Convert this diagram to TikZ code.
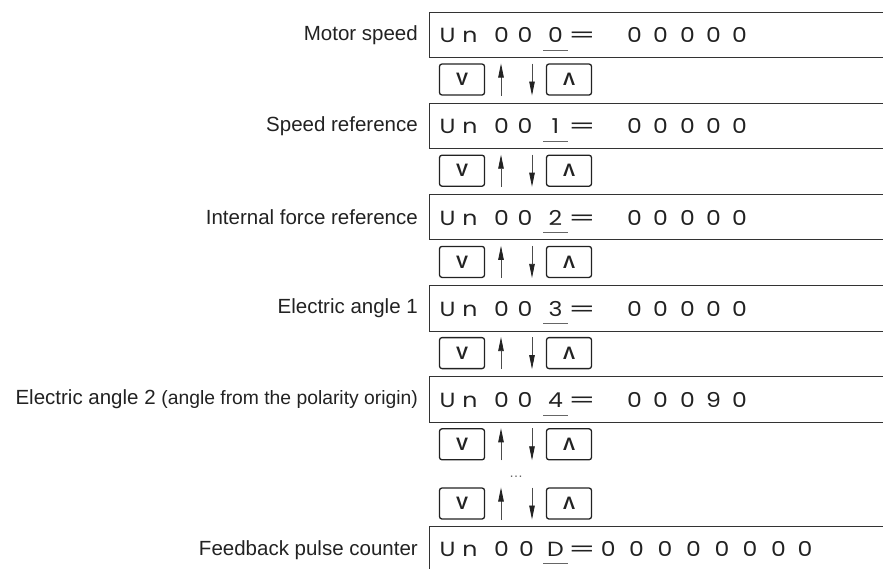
\documentclass[tikz,border=0pt]{standalone}
\usepackage{fontspec}
\setmainfont{Liberation Sans}
\newfontfamily\dispfont{Poppins}
\usetikzlibrary{arrows.meta}
\definecolor{ink}{HTML}{222222}
\definecolor{lin}{HTML}{333333}
\newcommand{\wch}[1]{\scalebox{1.15}[1]{#1}}
\newcommand{\weq}{\scalebox{1.9}[1]{=}}
\begin{document}
\begin{tikzpicture}[x=1pt,y=-1pt,
  lbl/.style={anchor=east,inner sep=0pt,text=ink,font=\fontsize{20.5}{24}\selectfont},
  dispbox/.style={minimum width=454pt,minimum height=45pt,inner sep=0pt,anchor=north west},
  boxline/.style={draw=lin,line width=0.9pt},
  dch/.style={anchor=base,inner sep=0pt,text=ink,font=\dispfont\fontsize{20.5}{24}\selectfont},
  uline/.style={draw=black!60,line width=0.9pt},
  btn/.style={draw=ink,line width=1.3pt,rounded corners=2.5pt,minimum width=45pt,minimum height=31pt,inner sep=0pt,text=ink,font=\bfseries\fontsize{18}{18}\selectfont},
  arr/.style={draw=black!70,line width=0.8pt,-{Triangle[length=14pt,width=5.5pt,color=ink]}}
]
\useasboundingbox (0,0) rectangle (883,568);

% display boxes (open to the right)
\foreach \i/\top in {0/12,1/103.2,2/194.4,3/285.6,4/376.8}{
  \node[dispbox] (disp\i) at (429,\top) {};
  \draw[boxline] (disp\i.north east) -- (disp\i.north west) -- (disp\i.south west) -- (disp\i.south east);
}
\node[dispbox,minimum height=60pt] (disp5) at (429,526.5) {};
\draw[boxline] (disp5.north east) -- (disp5.north west) -- (disp5.south west);

% labels
\node[lbl] (lab0) at (418,35) {Motor speed};
\node[lbl] (lab1) at (418,126) {Speed reference};
\node[lbl] (lab2) at (418,217) {Internal force reference};
\node[lbl] (lab3) at (418,308) {Electric angle 1};
\node[lbl] (lab4) at (418,399) {Electric angle 2 {\fontsize{19.3}{22}\selectfont(angle from the polarity origin)}};
\node[lbl] (lab5) at (418,550) {Feedback pulse counter};

% display characters, rows 0-4
\foreach \i/\d/\ra/\rb/\rc/\rd/\re in {0/0/0/0/0/0/0,1/1/0/0/0/0/0,2/2/0/0/0/0/0,3/3/0/0/0/0/0,4/4/0/0/0/9/0}{
  \pgfmathsetmacro{\yb}{42.7+91.2*\i}
  \foreach \x/\c [count=\k] in {447.5/U,470/n,501.5/0,525/0,634.5/\ra,660.5/\rb,687.5/\rc,713.5/\rd,739.5/\re}{
    \node[dch] (ch\i-\k) at (\x,\yb) {\wch{\c}};
  }
  \node[dch] (eq\i) at (582,\yb) {\weq};
  \node[dch] (sel\i) at (555.5,\yb) {\wch{\d}};
  \draw[uline] ([xshift=-12.5pt,yshift=-7.5pt]sel\i.base) -- ([xshift=12.5pt,yshift=-7.5pt]sel\i.base);
}

% last row
\foreach \x/\c [count=\k] in {447.5/U,470/n,501.5/0,526.5/0,608.3/0,636.5/0,665/0,693.5/0,722/0,750/0,778.5/0,805/0}{
  \node[dch] (ch5-\k) at (\x,556) {\wch{\c}};
}
\node[dch] (eq5) at (582,556) {\weq};
\node[dch] (sel5) at (555.5,556) {\wch{D}};
\draw[uline] ([xshift=-12.5pt,yshift=-7.3pt]sel5.base) -- ([xshift=12.5pt,yshift=-7.3pt]sel5.base);

% buttons and arrows
\foreach \i/\yc in {0/79.5,1/170.7,2/261.9,3/353.1,4/444.3,5/503.5}{
  \node[btn] (dn\i) at (462,\yc) {V};
  \node[btn] (up\i) at (569,\yc) {Λ};
  \coordinate (ua\i) at (501,\yc+16);
  \coordinate (ub\i) at (501,\yc-16);
  \coordinate (da\i) at (532,\yc-16);
  \coordinate (db\i) at (532,\yc+16);
  \draw[arr] (ua\i) -- (ub\i);
  \draw[arr] (da\i) -- (db\i);
}

\node[inner sep=0pt,text=black!60,font=\fontsize{14}{14}\selectfont] (dots) at (516,477) {…};
\end{tikzpicture}
\end{document}
